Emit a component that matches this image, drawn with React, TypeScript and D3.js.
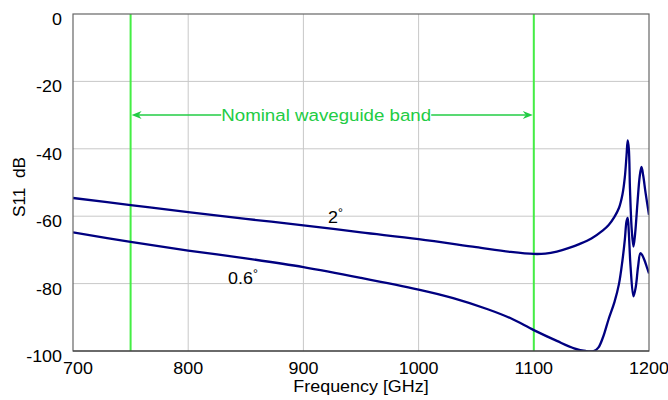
import React from "react";
import * as d3 from "d3";

const xTicks = [700, 800, 900, 1000, 1100, 1200];
const yTicks = [0, -20, -40, -60, -80, -100];
const bandEdges = [750, 1100];
const bandLabel = "Nominal waveguide band";
const bandLevel = -30;

const freq2 = [700, 750, 800, 850, 900, 950, 1000, 1050, 1080, 1100, 1110, 1120, 1130, 1140, 1150, 1160, 1165, 1170, 1174, 1177, 1179, 1180.5, 1181.5, 1182.5, 1183.5, 1185, 1186.5, 1188, 1190, 1192, 1193.5, 1195, 1197, 1200];
const s11_2deg = [-54.6, -56.7, -58.8, -60.8, -62.7, -64.8, -66.8, -69.2, -70.6, -71.2, -71.1, -70.5, -69.5, -68.2, -66.6, -64.2, -62.6, -60.2, -57.5, -53.5, -48.5, -42, -37.5, -40, -52, -64, -69, -65, -56, -48, -45.4, -48, -53, -59.6];

const freq06 = [700, 750, 800, 850, 900, 950, 1000, 1030, 1060, 1080, 1100, 1120, 1135, 1145, 1152, 1156, 1160, 1165, 1170, 1174, 1177, 1179, 1180.5, 1181.5, 1182.5, 1184, 1186.5, 1188.5, 1190.5, 1192.5, 1194, 1196, 1198, 1200];
const s11_06deg = [-64.8, -67.6, -70.2, -72.5, -75.1, -78.3, -81.8, -84.3, -87.6, -90.3, -93.8, -97, -99.2, -100, -100, -99, -96, -90.5, -85.5, -80, -73, -67, -61.5, -60.5, -65, -75, -83.8, -81, -75, -71, -71.5, -73, -75, -77];

const W = 668, H = 400;
const L = 73, R = 649, T = 14, B = 351;
const FONT = "'Liberation Sans', Arial, sans-serif";
const SX = 1.12;

function Txt({ x, y, anchor = "middle", size = 16, sx = SX, fill = "#000", rotate = 0, children }: any) {
  return (
    <g transform={`translate(${x},${y}) rotate(${rotate}) scale(${sx},1)`}>
      <text x={0} y={0} textAnchor={anchor} fontSize={size} fontFamily={FONT} fill={fill}>
        {children}
      </text>
    </g>
  );
}

export default function App() {
  const x = d3.scaleLinear().domain([700, 1200]).range([L, R]);
  const y = d3.scaleLinear().domain([-100, 0]).range([B, T]);
  const line = d3
    .line<[number, number]>()
    .x((d) => x(d[0]))
    .y((d) => y(d[1]))
    .curve(d3.curveCatmullRom.alpha(0.5));
  const d2 = line(freq2.map((f, i) => [f, s11_2deg[i]] as [number, number])) || "";
  const d06 = line(freq06.map((f, i) => [f, s11_06deg[i]] as [number, number])) || "";

  const green = "#44ee44";
  const textGreen = "#22cc44";
  const ay = y(bandLevel);
  const xl = x(bandEdges[0]);
  const xr = x(bandEdges[1]);
  const mid = (xl + xr) / 2 - 6;
  const halfText = 105;

  return (
    <svg width={W} height={H} style={{ position: "absolute", left: 0, top: 0, background: "#fff" }}>
      <defs>
        <clipPath id="plot">
          <rect x={L} y={T} width={R - L} height={B - T} />
        </clipPath>
      </defs>
      <rect x={0} y={0} width={W} height={H} fill="#fff" />
      {xTicks.slice(1, -1).map((t) => (
        <line key={"gx" + t} x1={x(t)} x2={x(t)} y1={T} y2={B} stroke="#c8c8c8" strokeWidth={1} />
      ))}
      {yTicks.slice(1, -1).map((t) => (
        <line key={"gy" + t} x1={L} x2={R} y1={y(t)} y2={y(t)} stroke="#c8c8c8" strokeWidth={1} />
      ))}
      {bandEdges.map((b) => (
        <line key={"b" + b} x1={x(b)} x2={x(b)} y1={T} y2={B} stroke={green} strokeWidth={2} />
      ))}
      <line x1={xl + 8} x2={mid - halfText} y1={ay} y2={ay} stroke={textGreen} strokeWidth={1.5} />
      <line x1={mid + halfText} x2={xr - 8} y1={ay} y2={ay} stroke={textGreen} strokeWidth={1.5} />
      <path d={`M${xl + 1},${ay} L${xl + 11},${ay - 4} L${xl + 8},${ay} L${xl + 11},${ay + 4} Z`} fill={textGreen} />
      <path d={`M${xr - 1},${ay} L${xr - 11},${ay - 4} L${xr - 8},${ay} L${xr - 11},${ay + 4} Z`} fill={textGreen} />
      <Txt x={mid} y={ay + 6} size={17} sx={1.1} fill={textGreen}>{bandLabel}</Txt>
      <g clipPath="url(#plot)">
        <path d={d2} fill="none" stroke="#000080" strokeWidth={2.3} strokeLinejoin="round" />
        <path d={d06} fill="none" stroke="#000080" strokeWidth={2.3} strokeLinejoin="round" />
      </g>
      <rect x={L} y={T} width={R - L} height={B - T} fill="none" stroke="#666" strokeWidth={1.2} />
      <line x1={L} x2={R} y1={B} y2={B} stroke="#333" strokeWidth={1.2} />
      {yTicks.map((t) => (
        <Txt key={"yl" + t} x={L - 11} y={y(t) + 11} anchor="end">{t}</Txt>
      ))}
      {xTicks.map((t, i) => (
        <Txt key={"xl" + t} x={x(t) + (i === 0 ? 5 : 0)} y={374}>{t}</Txt>
      ))}
      <Txt x={361} y={392}>Frequency [GHz]</Txt>
      <Txt x={25} y={187} rotate={-90} sx={1.08}>{"S11\u00a0\u00a0dB"}</Txt>
      <g transform={`translate(328,223) scale(${SX},1)`}>
        <text fontSize={16} fontFamily={FONT}>2<tspan fontSize={11} dy={-7}>°</tspan></text>
      </g>
      <g transform={`translate(228,284) scale(${SX},1)`}>
        <text fontSize={16} fontFamily={FONT}>0.6<tspan fontSize={11} dy={-7}>°</tspan></text>
      </g>
    </svg>
  );
}
